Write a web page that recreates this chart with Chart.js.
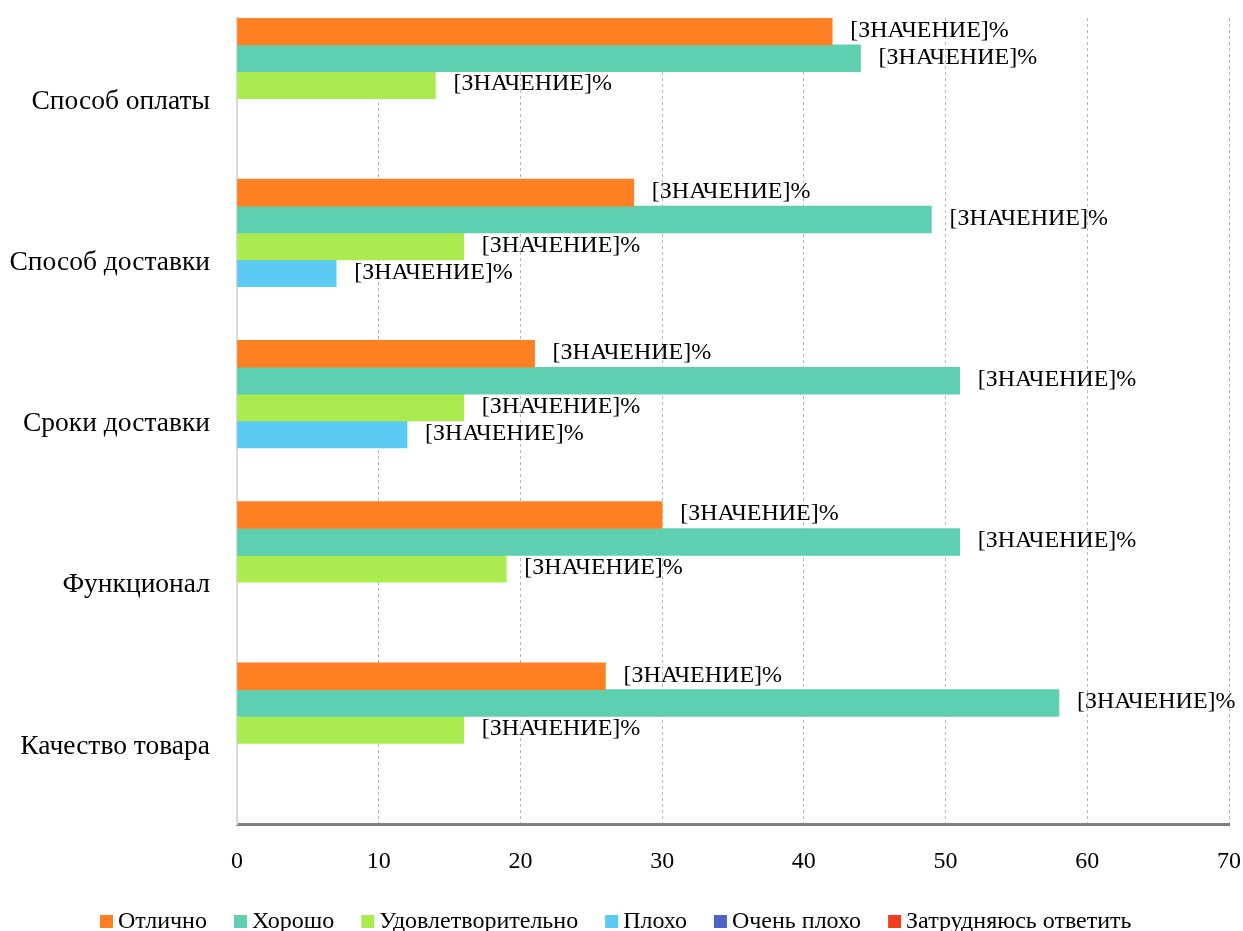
<!DOCTYPE html>
<html lang="ru">
<head>
<meta charset="utf-8">
<title>Оценка сервиса</title>
<script src="https://cdn.jsdelivr.net/npm/chart.js@4/dist/chart.umd.min.js"></script>
<style>
    html, body { margin: 0; padding: 0; background: #fff; }
    #wrap { width: 1243px; height: 931px; }
</style>
</head>
<body>
<div id="wrap"><canvas id="surveyChart" width="1243" height="931"></canvas></div>
<script>
// Категории опроса (сверху вниз)
const categories = ['Способ оплаты', 'Способ доставки', 'Сроки доставки', 'Функционал', 'Качество товара'];

// Доли ответов, %
const excellent = [42, 28, 21, 30, 26];
const good = [44, 49, 51, 51, 58];
const fair = [14, 16, 16, 19, 16];
const bad = [null, 7, 12, null, null];
const veryBad = [null, null, null, null, null];
const hardToSay = [null, null, null, null, null];

const xTicks = [0, 10, 20, 30, 40, 50, 60, 70];
const valueLabel = '[ЗНАЧЕНИЕ]%';

const FONT = '"Liberation Serif", "Times New Roman", serif';

// Подписи справа от концов столбцов
const barLabels = {
    id: 'barLabels',
    afterDatasetsDraw(chart) {
        const ctx = chart.ctx;
        ctx.save();
        ctx.font = '24px ' + FONT;
        ctx.fillStyle = '#000';
        ctx.textAlign = 'left';
        ctx.textBaseline = 'middle';
        chart.data.datasets.forEach((ds, i) => {
            const meta = chart.getDatasetMeta(i);
            meta.data.forEach((bar, j) => {
                if (ds.data[j] == null) return;
                ctx.fillText(valueLabel, bar.x + 18, bar.y - 1);
            });
        });
        ctx.restore();
    }
};

// Легенда внизу: квадрат + подпись, плотная раскладка
const bottomLegend = {
    id: 'bottomLegend',
    afterDraw(chart) {
        const ctx = chart.ctx;
        const box = 13, gap = 5, spacing = 27;
        ctx.save();
        ctx.font = '24px ' + FONT;
        const items = chart.data.datasets.map(ds => ({
            text: ds.label,
            color: ds.backgroundColor,
            w: ctx.measureText(ds.label).width
        }));
        const total = items.reduce((s, it) => s + box + gap + it.w, 0) + spacing * (items.length - 1);
        let x = Math.round(616 - total / 2);
        const baseY = 928;
        ctx.textAlign = 'left';
        ctx.textBaseline = 'alphabetic';
        items.forEach(it => {
            ctx.fillStyle = it.color;
            ctx.fillRect(x, baseY - 13, box, box);
            ctx.fillStyle = '#000';
            ctx.fillText(it.text, x + box + gap, baseY);
            x += box + gap + it.w + spacing;
        });
        ctx.restore();
    }
};

function series(label, data, color) {
    return {
        label: label,
        data: data,
        backgroundColor: color,
        borderWidth: 0,
        barPercentage: 1,
        categoryPercentage: 1
    };
}

new Chart(document.getElementById('surveyChart'), {
    type: 'bar',
    data: {
        labels: categories,
        datasets: [
            series('Отлично', excellent, '#ff8022'),
            series('Хорошо', good, '#5ecfb1'),
            series('Удовлетворительно', fair, '#aaeb50'),
            series('Плохо', bad, '#5ccbf3'),
            series('Очень плохо', veryBad, '#4e62c8'),
            series('Затрудняюсь ответить', hardToSay, '#ee3f22')
        ]
    },
    options: {
        indexAxis: 'y',
        responsive: false,
        animation: false,
        layout: { padding: { top: 18, right: 14, left: 0, bottom: 40 } },
        plugins: {
            legend: { display: false },
            tooltip: { enabled: false }
        },
        scales: {
            x: {
                min: 0,
                max: 70,
                afterBuildTicks(scale) {
                    scale.ticks = xTicks.map(v => ({ value: v }));
                },
                afterFit(scale) {
                    scale.height = 67;
                    scale.paddingLeft = 0;
                    scale.paddingRight = 0;
                },
                ticks: {
                    font: { family: FONT, size: 24 },
                    color: '#000',
                    padding: 23
                },
                grid: {
                    color: ctx => ctx.index === 0 ? 'rgba(0,0,0,0)' : '#b8b8b8',
                    lineWidth: 1,
                    drawTicks: false
                },
                border: { color: '#808080', width: 3, dash: [3, 3] }
            },
            y: {
                afterFit(scale) {
                    scale.width = 237;
                    scale.paddingTop = 0;
                    scale.paddingBottom = 0;
                },
                ticks: {
                    font: { family: FONT, size: 27.5 },
                    color: '#000',
                    padding: 27,
                    labelOffset: 3
                },
                grid: { display: false, drawTicks: false },
                border: { color: '#d9d9d9', width: 2 }
            }
        }
    },
    plugins: [barLabels, bottomLegend]
});
</script>
</body>
</html>
